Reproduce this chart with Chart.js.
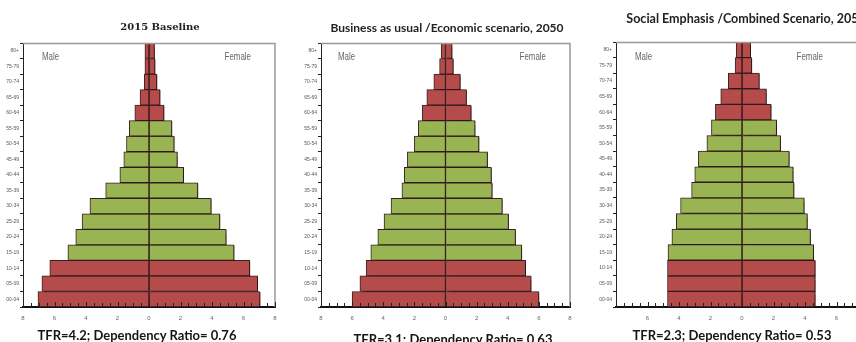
<!DOCTYPE html>
<html>
<head>
<meta charset="utf-8">
<script src="https://cdn.jsdelivr.net/npm/chart.js@4"></script>
<style>
    html, body { margin: 0; padding: 0; background: #fff; overflow: hidden; width: 856px; height: 342px; }
    .panel { position: absolute; top: 0; height: 342px; }
    .panel canvas { position: absolute; left: 0; top: 0; }
    .title { position: absolute; white-space: nowrap; font-family: Lato, sans-serif; font-weight: bold; color: #222; transform: translateX(-50%); }
    .foot { position: absolute; white-space: nowrap; font-family: Lato, sans-serif; font-weight: bold; font-size: 13px; color: #151515; transform: translateX(-50%); }
</style>
</head>
<body>
<div class="panel" id="p1" style="left:0;width:290px"><canvas id="chart1" width="290" height="342"></canvas></div>
<div class="panel" id="p2" style="left:290px;width:290px"><canvas id="chart2" width="290" height="342"></canvas></div>
<div class="panel" id="p3" style="left:580px;width:300px"><canvas id="chart3" width="300" height="342"></canvas></div>

<div class="title" style="left:160px;top:21px;font-size:10px;font-family:'DejaVu Serif',serif">2015 Baseline</div>
<div class="title" style="left:447px;top:20px;font-size:12px">Business as usual /Economic scenario, 2050</div>
<div class="title" style="left:746px;top:11px;font-size:12.5px">Social Emphasis /Combined Scenario, 2050</div>

<div class="foot" style="left:137px;top:327px">TFR=4.2; Dependency Ratio= 0.76</div>
<div class="foot" style="left:453px;top:331px">TFR=3.1; Dependency Ratio= 0.63</div>
<div class="foot" style="left:732px;top:327px">TFR=2.3; Dependency Ratio= 0.53</div>

<script>
// age groups, youngest first (drawn bottom to top)
const ageGroups = ['00-04', '05-09', '10-14', '15-19', '20-24', '25-29', '30-34', '35-39', '40-44',
    '45-49', '50-54', '55-59', '60-64', '65-69', '70-74', '75-79', '80+'];
const xTicks = [-8, -6, -4, -2, 0, 2, 4, 6, 8];

// 2015 baseline, % of population
const baseMale = [7.05, 6.8, 6.3, 5.15, 4.65, 4.25, 3.75, 2.75, 1.85, 1.6, 1.43, 1.25, 0.9, 0.57, 0.3, 0.26, 0.26];
const baseFemale = [7.05, 6.9, 6.4, 5.4, 4.9, 4.5, 3.95, 3.1, 2.2, 1.8, 1.6, 1.45, 0.95, 0.7, 0.5, 0.38, 0.35];

// business as usual / economic scenario 2050
const busMale = [6.0, 5.5, 5.1, 4.8, 4.35, 3.95, 3.5, 2.8, 2.65, 2.45, 2.0, 1.75, 1.5, 1.2, 0.75, 0.38, 0.28];
const busFemale = [6.0, 5.5, 5.15, 4.9, 4.5, 4.05, 3.65, 3.0, 2.95, 2.7, 2.15, 1.9, 1.65, 1.35, 0.95, 0.5, 0.42];

// social emphasis / combined scenario 2050
const socMale = [4.73, 4.73, 4.73, 4.7, 4.45, 4.17, 3.9, 3.2, 3.0, 2.77, 2.23, 1.94, 1.69, 1.35, 0.87, 0.44, 0.37];
const socFemale = [4.65, 4.65, 4.65, 4.55, 4.35, 4.15, 3.95, 3.3, 3.25, 3.0, 2.45, 2.2, 1.85, 1.55, 1.1, 0.62, 0.55];

const RED = '#b64b4b';
const GREEN = '#98b453';

function barColor(ctx) {
    let i = ctx.dataIndex;
    // 0-14 and 60+ are the dependent ages
    return (i < 3 || i > 11) ? RED : GREEN;
}

// box border, minor ticks on the bottom axis, Male / Female captions, bar shadow
const pyramidDecor = {
    id: 'pyramidDecor',
    beforeDatasetsDraw(chart) {
        let ctx = chart.ctx;
        ctx.save();
        ctx.shadowColor = 'rgba(40,20,20,0.75)';
        ctx.shadowOffsetX = 2;
        ctx.shadowOffsetY = 1;
        ctx.shadowBlur = 1;
    },
    afterDatasetsDraw(chart) {
        chart.ctx.restore();
    },
    afterDraw(chart) {
        let ctx = chart.ctx;
        let a = chart.chartArea;
        let x = chart.scales.x;
        ctx.save();
        ctx.strokeStyle = '#999';
        ctx.lineWidth = 1.5;
        ctx.beginPath();
        ctx.moveTo(a.left, a.top + 0.5);
        ctx.lineTo(a.right, a.top + 0.5);
        ctx.lineTo(a.right, a.bottom);
        ctx.stroke();

        ctx.strokeStyle = '#222';
        ctx.lineWidth = 1;
        for (let v = -8; v <= 8; v += 0.5) {
            let px = Math.round(x.getPixelForValue(v)) + 0.5;
            ctx.beginPath();
            ctx.moveTo(px, a.bottom);
            ctx.lineTo(px, a.bottom - (v % 2 === 0 ? 5 : 4));
            ctx.stroke();
        }

        // narrow captions, squeezed horizontally
        ctx.fillStyle = '#666';
        ctx.font = '11px "Liberation Sans", sans-serif';
        ctx.textBaseline = 'middle';
        ctx.textAlign = 'left';
        ctx.save();
        ctx.translate(a.left + chart.options.capLeft, 57);
        ctx.scale(0.72, 1);
        ctx.fillText('Male', 0, 0);
        ctx.restore();
        ctx.save();
        ctx.translate(a.right - chart.options.capRight, 57);
        ctx.scale(0.72, 1);
        ctx.textAlign = 'right';
        ctx.fillText('Female', 0, 0);
        ctx.restore();
        ctx.restore();
    }
};

function addPyramid(canvasId, male, female, box, hideEnds) {
    let ctx = document.getElementById(canvasId).getContext('2d');
    let w = ctx.canvas.width;
    return new Chart(ctx, {
        type: 'bar',
        data: {
            labels: ageGroups,
            datasets: [{
                label: 'Male',
                data: male.map(v => -v),
                backgroundColor: barColor,
                borderColor: '#3b2222',
                borderWidth: 1,
                borderSkipped: false
            }, {
                label: 'Female',
                data: female,
                backgroundColor: barColor,
                borderColor: '#3b2222',
                borderWidth: 1,
                borderSkipped: false
            }]
        },
        plugins: [pyramidDecor],
        options: {
            responsive: false,
            animation: false,
            indexAxis: 'y',
            capLeft: box.capLeft,
            capRight: box.capRight,
            barPercentage: 1,
            categoryPercentage: 1,
            layout: {
                padding: { left: 0, top: box.top, right: w - box.right, bottom: 342 - box.bottom - 20 }
            },
            plugins: {
                legend: { display: false },
                tooltip: { enabled: false },
                title: { display: false }
            },
            scales: {
                x: {
                    stacked: true,
                    min: -8,
                    max: 8,
                    afterFit: function (s) { s.height = 20; },
                    afterBuildTicks: function (s) { s.ticks = xTicks.map(v => ({ value: v })); },
                    border: { display: true, color: '#111', width: 2 },
                    grid: { display: false },
                    ticks: {
                        color: '#666',
                        font: { size: 6, family: 'Liberation Sans, sans-serif' },
                        padding: 0,
                        maxRotation: 0,
                        callback: function (v) {
                            if (hideEnds && Math.abs(v) === 8) return '';
                            return Math.abs(v);
                        }
                    }
                },
                y: {
                    stacked: true,
                    reverse: true,
                    afterFit: function (s) { s.width = box.left; },
                    border: { display: true, color: '#222', width: 1 },
                    grid: { drawOnChartArea: false, tickLength: 3, color: '#222' },
                    ticks: {
                        color: '#555',
                        font: { size: 5, family: 'Liberation Sans, sans-serif' },
                        padding: 1,
                        autoSkip: false
                    }
                }
            }
        }
    });
}

addPyramid('chart1', baseMale, baseFemale, { left: 23, right: 275, top: 43, bottom: 307, capLeft: 19, capRight: 24 }, false);
addPyramid('chart2', busMale, busFemale, { left: 31, right: 280, top: 43, bottom: 307, capLeft: 17, capRight: 24 }, false);
addPyramid('chart3', socMale, socFemale, { left: 36, right: 288, top: 42, bottom: 307, capLeft: 19, capRight: 45 }, true);
</script>
</body>
</html>
